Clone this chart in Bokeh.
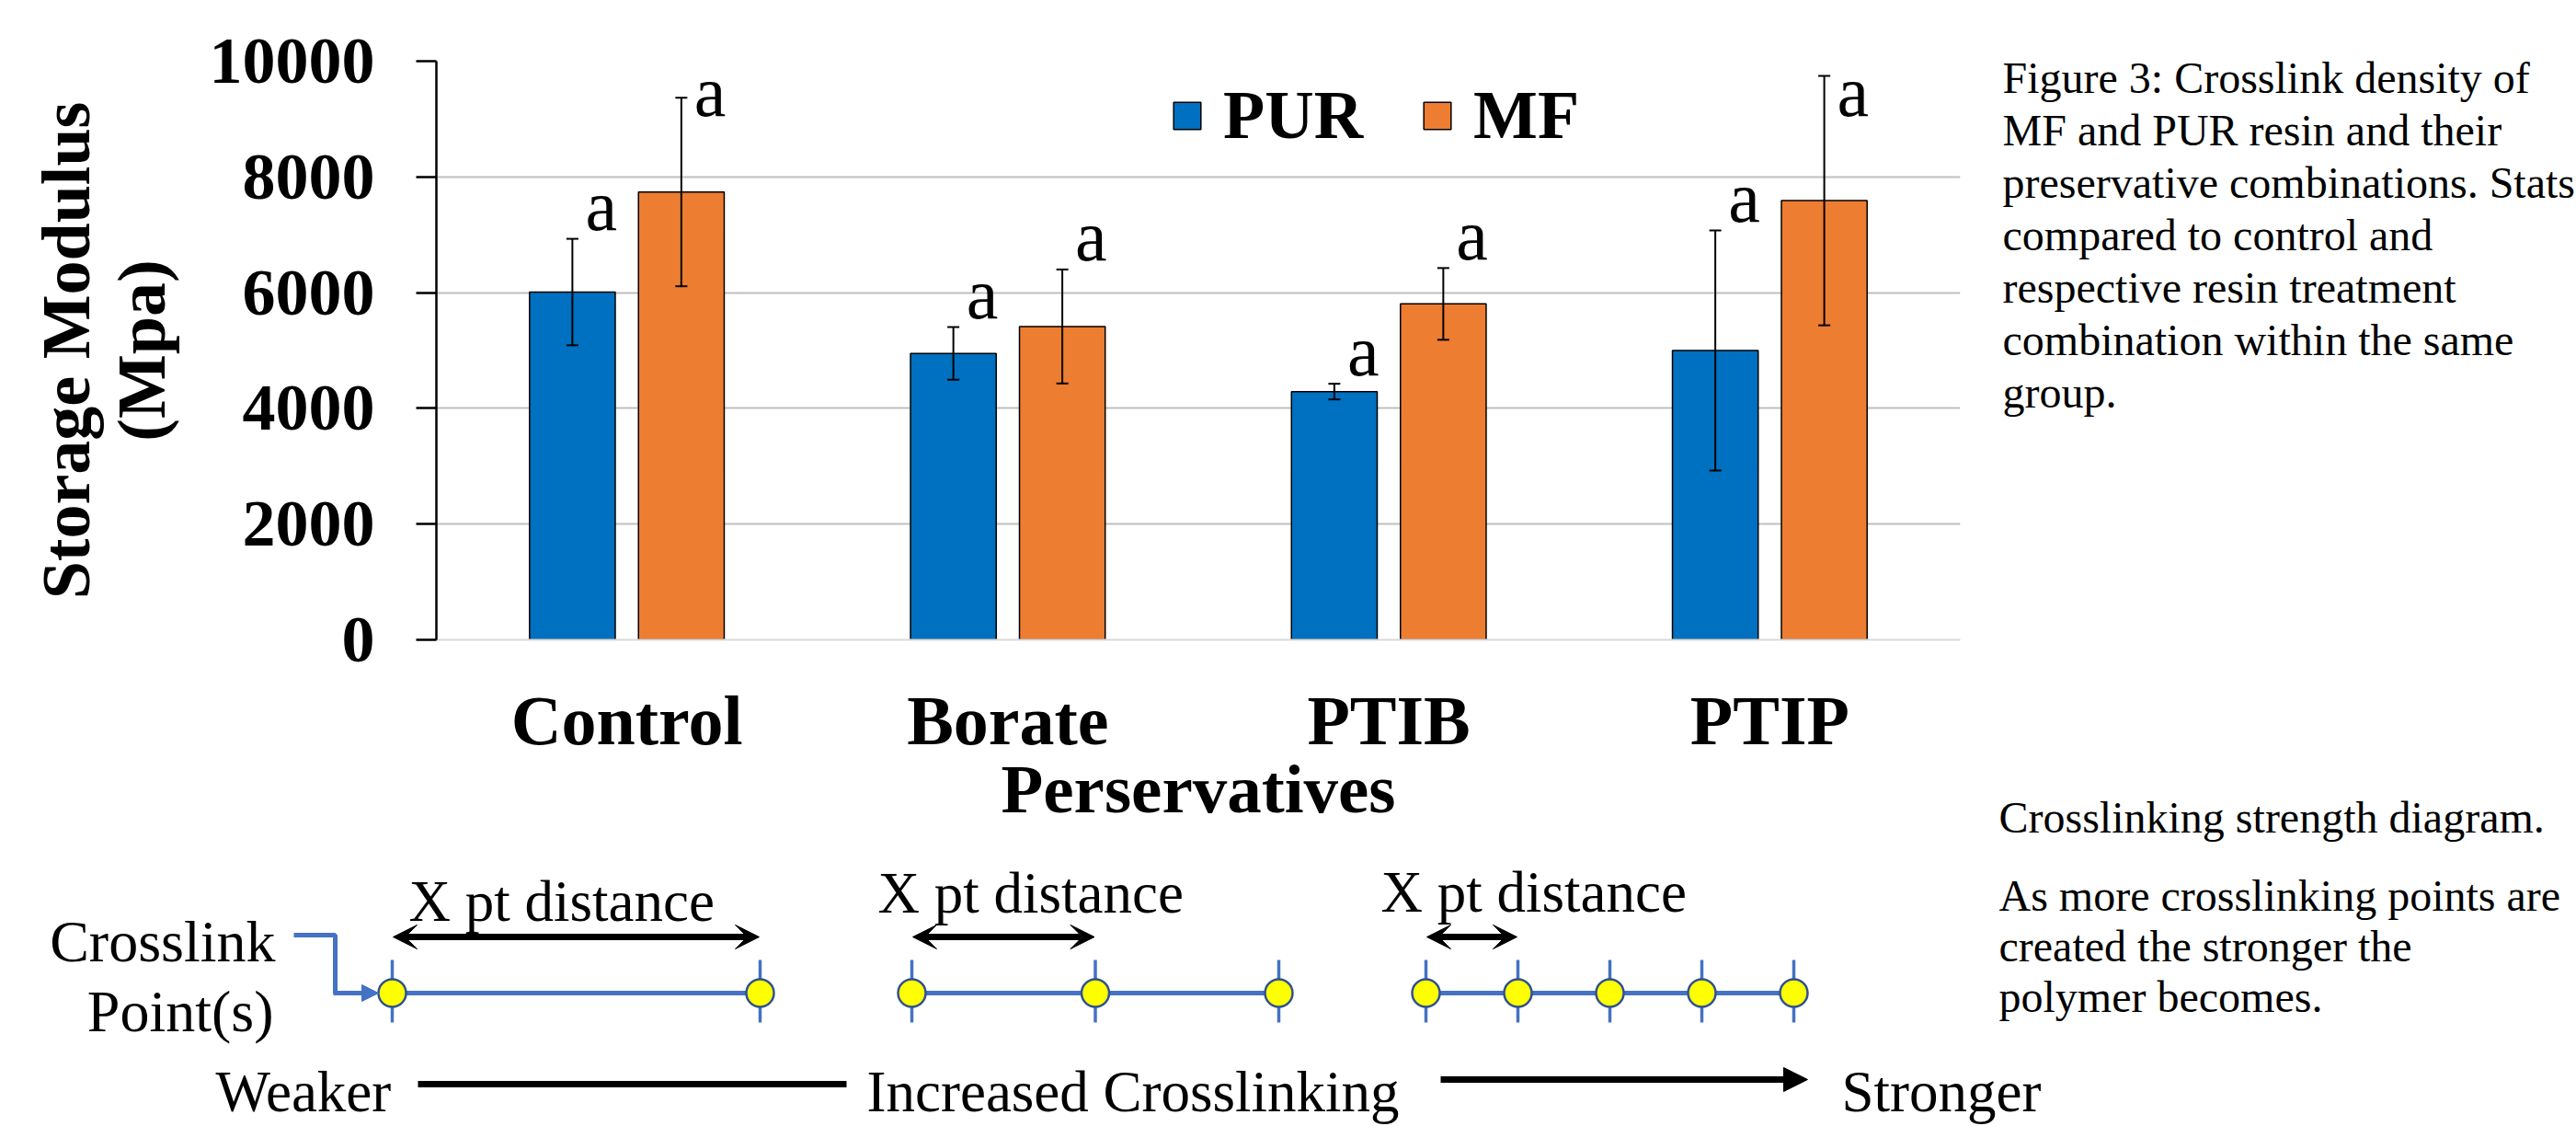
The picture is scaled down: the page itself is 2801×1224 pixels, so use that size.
from bokeh.plotting import figure
from bokeh.models import (FactorRange, Range1d, ColumnDataSource, Legend, LegendItem,
                          FixedTicker, Arrow, VeeHead, NormalHead)
from bokeh.transform import dodge
from bokeh.layouts import column, row
from bokeh.embed import file_html
from bokeh.resources import INLINE
from bokeh.core.properties import value

# ---------------- data ----------------
categories = ["Control", "Borate", "PTIB", "PTIP"]
pur_mean = [6010, 4950, 4290, 5000]
pur_err = [920, 455, 135, 2075]
mf_mean = [7740, 5415, 5805, 7590]
mf_err = [1630, 985, 620, 2155]
pur_sig = ["a", "a", "a", "a"]
mf_sig = ["a", "a", "a", "a"]
y_ticks = [0, 2000, 4000, 6000, 8000, 10000]

caption_lines = ["Figure 3: Crosslink density of", "MF and PUR resin and their",
                 "preservative combinations. Stats", "compared to control and",
                 "respective resin treatment", "combination within the same", "group."]
diagram_title = "Crosslinking strength diagram."
diagram_note = ["As more crosslinking points are", "created the stronger the", "polymer becomes."]

# schematic: number of crosslink points per chain
chain_points = [2, 3, 5]

# ---------------- styles / layout ----------------
SERIF = "Liberation Serif"
BLUE = "#0070C0"
ORANGE = "#ED7D31"
CHAIN = "#4472C4"
TOTAL_W, TOTAL_H = 2801, 1224
TOP_H = 935
CHART_W = 2150
FRAME_L, FRAME_R = 474, 2131
OFF = 0.143
BAR_W = 0.225


def bo(size):
    # baseline correction for text glyphs (screen px)
    return -0.3 * size


pur_lo = [m - e for m, e in zip(pur_mean, pur_err)]
pur_hi = [m + e for m, e in zip(pur_mean, pur_err)]
mf_lo = [m - e for m, e in zip(mf_mean, mf_err)]
mf_hi = [m + e for m, e in zip(mf_mean, mf_err)]
pur_lab = [min(h + 200, 9100) for h in pur_hi]
mf_lab = [min(h + 200, 9100) for h in mf_hi]

src = ColumnDataSource(dict(cat=categories, pur=pur_mean, mf=mf_mean,
                            pur_lo=pur_lo, pur_hi=pur_hi, mf_lo=mf_lo, mf_hi=mf_hi,
                            pur_lab=pur_lab, mf_lab=mf_lab, pur_sig=pur_sig, mf_sig=mf_sig))

p = figure(x_range=FactorRange(factors=categories, range_padding=0), y_range=Range1d(0, 10000),
           width=CHART_W, height=TOP_H, output_backend="svg", toolbar_location=None,
           min_border_left=FRAME_L, min_border_right=CHART_W - FRAME_R, min_border_top=66,
           min_border_bottom=TOP_H - 695, frame_align=False)
p.outline_line_color = None

xp = dodge("cat", -OFF, range=p.x_range)
xm = dodge("cat", OFF, range=p.x_range)

r_pur = p.vbar(x=xp, top="pur", bottom=0, width=BAR_W, source=src,
               fill_color=BLUE, line_color="black", line_width=1.5)
r_mf = p.vbar(x=xm, top="mf", bottom=0, width=BAR_W, source=src,
              fill_color=ORANGE, line_color="black", line_width=1.5)

for xx, lo, hi in [(xp, "pur_lo", "pur_hi"), (xm, "mf_lo", "mf_hi")]:
    p.segment(x0=xx, y0=lo, x1=xx, y1=hi, source=src, line_color="black", line_width=2)
    p.scatter(x=xx, y=lo, source=src, marker="dash", size=13, line_color="black", line_width=2)
    p.scatter(x=xx, y=hi, source=src, marker="dash", size=13, line_color="black", line_width=2)

for xx, yy, tt in [(xp, "pur_lab", "pur_sig"), (xm, "mf_lab", "mf_sig")]:
    p.text(x=xx, y=yy, text=tt, source=src, x_offset=14, y_offset=bo(78), text_align="left",
           text_baseline="alphabetic", text_font=value(SERIF), text_font_size="78px",
           text_color="black")

legend = Legend(items=[LegendItem(label="PUR", renderers=[r_pur]),
                       LegendItem(label="MF", renderers=[r_mf])],
                orientation="horizontal", location=(798, 527),
                glyph_width=37, glyph_height=37, label_standoff=21, spacing=62,
                padding=0, margin=0, border_line_color=None, background_fill_alpha=0,
                label_text_font=SERIF, label_text_font_style="bold", label_text_font_size="74px",
                label_text_color="black")
p.add_layout(legend)

p.ygrid.grid_line_color = "#BFBFBF"
p.ygrid.grid_line_width = 2
p.xgrid.grid_line_color = None

ya = p.yaxis[0]
ya.ticker = FixedTicker(ticks=y_ticks)
ya.major_label_text_font = SERIF
ya.major_label_text_font_style = "bold"
ya.major_label_text_font_size = "72px"
ya.major_label_text_color = "black"
ya.axis_line_color = "black"
ya.axis_line_width = 2.5
ya.major_tick_out = 22
ya.major_tick_in = 0
ya.major_tick_line_width = 2.5
ya.major_tick_line_color = "black"
ya.minor_tick_out = 0
ya.minor_tick_in = 0
ya.major_label_standoff = 45
ya.axis_label = "Storage Modulus\n(Mpa)"
ya.axis_label_text_font = SERIF
ya.axis_label_text_font_style = "bold"
ya.axis_label_text_font_size = "74px"
ya.axis_label_text_color = "black"
ya.axis_label_text_line_height = 1.0
ya.axis_label_standoff = 30

xa = p.xaxis[0]
xa.major_label_text_font = SERIF
xa.major_label_text_font_style = "bold"
xa.major_label_text_font_size = "76px"
xa.major_label_text_color = "black"
xa.major_tick_out = 0
xa.major_tick_in = 0
xa.axis_line_color = "#D9D9D9"
xa.axis_line_width = 2
xa.major_label_standoff = 45
xa.axis_label = "Perservatives"
xa.axis_label_text_font = SERIF
xa.axis_label_text_font_style = "bold"
xa.axis_label_text_font_size = "75px"
xa.axis_label_text_color = "black"
xa.axis_label_standoff = -12

# ---------------- right caption ----------------
pc = figure(width=TOTAL_W - CHART_W, height=TOP_H, x_range=Range1d(CHART_W, TOTAL_W),
            y_range=Range1d(TOP_H, 0), output_backend="svg", toolbar_location=None,
            x_axis_location=None, y_axis_location=None, frame_align=False,
            min_border_left=0, min_border_right=0, min_border_top=0, min_border_bottom=0)
pc.outline_line_color = None
pc.grid.grid_line_color = None
cap_y = [98 + 57 * i for i in range(len(caption_lines))]
pc.text(x=[2177] * len(caption_lines), y=cap_y, text=caption_lines, text_font=value(SERIF),
        text_font_size="48px", text_baseline="alphabetic", text_align="left", text_color="black",
        y_offset=bo(48))
pc.text(x=[2173], y=[902], text=[diagram_title], text_font=value(SERIF),
        text_font_size="48px", text_baseline="alphabetic", text_align="left", text_color="black",
        y_offset=bo(48))

# ---------------- diagram ----------------
pd_ = figure(width=TOTAL_W, height=TOTAL_H - TOP_H, x_range=Range1d(0, TOTAL_W),
             y_range=Range1d(TOTAL_H, TOP_H), output_backend="svg", toolbar_location=None,
             x_axis_location=None, y_axis_location=None, frame_align=False,
             min_border_left=0, min_border_right=0, min_border_top=0, min_border_bottom=0)
pd_.outline_line_color = None
pd_.grid.grid_line_color = None

chain_start = [426, 991, 1550]
chain_span = [400, 399, 400]
chain_y = 1079
dist_label_x = [444, 954, 1501]
dist_label_y = [998, 989, 988]
arrow_y = 1018

for n, x0, span in zip(chain_points, chain_start, chain_span):
    gap = span / (n - 1)
    xs = [x0 + gap * k for k in range(n)]
    pd_.segment(x0=[xs[0]], y0=[chain_y], x1=[xs[-1]], y1=[chain_y], line_color=CHAIN, line_width=5)
    pd_.segment(x0=xs, y0=[chain_y - 36] * n, x1=xs, y1=[chain_y + 32] * n,
                line_color=CHAIN, line_width=3.5)
    pd_.scatter(x=xs, y=[chain_y] * n, size=30, marker="circle", fill_color="#FFFF00",
                line_color="#2F528F", line_width=2.5)
    pd_.add_layout(Arrow(x_start=xs[0] + 1, y_start=arrow_y, x_end=xs[1] - 1, y_end=arrow_y,
                         line_color="black", line_width=7,
                         start=VeeHead(size=26, fill_color="black", line_color="black", line_width=1),
                         end=VeeHead(size=26, fill_color="black", line_color="black", line_width=1)))

pd_.text(x=dist_label_x, y=dist_label_y, text=["X pt distance"] * 3, text_font=value(SERIF),
         text_font_size="63px", text_baseline="alphabetic", text_align="left", text_color="black",
         y_offset=bo(63))

pd_.text(x=[299, 297], y=[1042, 1118], text=["Crosslink", "Point(s)"], text_font=value(SERIF),
         text_font_size="64px", text_baseline="alphabetic", text_align="right", text_color="black",
         y_offset=bo(64))
pd_.line(x=[319, 364, 364, 380], y=[1016, 1016, chain_y, chain_y], line_color=CHAIN, line_width=5)
pd_.add_layout(Arrow(x_start=362, y_start=chain_y, x_end=411, y_end=chain_y,
                     line_color=CHAIN, line_width=5,
                     end=NormalHead(size=18, fill_color=CHAIN, line_color=CHAIN, line_width=1)))

pd_.text(x=[234, 942, 2002], y=[1205, 1205, 1205],
         text=["Weaker", "Increased Crosslinking", "Stronger"], text_font=value(SERIF),
         text_font_size="63px", text_baseline="alphabetic", text_align="left", text_color="black",
         y_offset=bo(63))
pd_.segment(x0=[454], y0=[1178], x1=[920], y1=[1178], line_color="black", line_width=7)
pd_.add_layout(Arrow(x_start=1566, y_start=1173, x_end=1965, y_end=1173, line_color="black",
                     line_width=7, end=NormalHead(size=26, fill_color="black", line_color="black",
                                                  line_width=1)))

pd_.text(x=[2173] * 3, y=[987, 1042, 1097], text=diagram_note, text_font=value(SERIF),
         text_font_size="48px", text_baseline="alphabetic", text_align="left", text_color="black",
         y_offset=bo(48))

layout = column(row(p, pc), pd_)
open("out.html", "w").write(file_html(layout, INLINE))
